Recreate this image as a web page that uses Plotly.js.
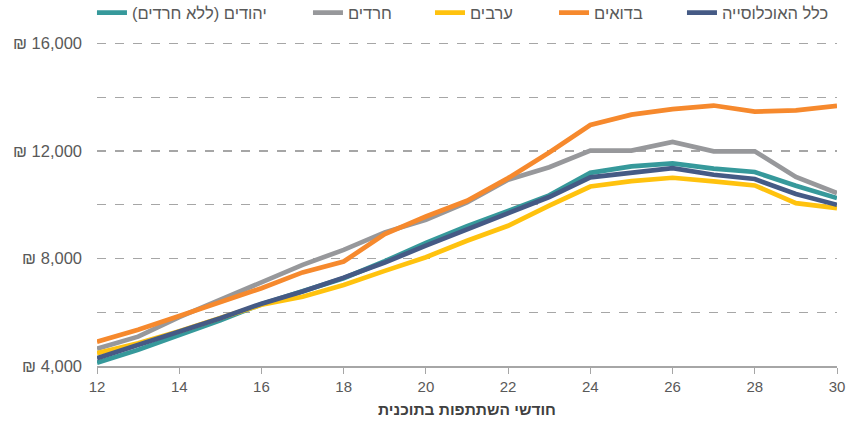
<!DOCTYPE html>
<html>
<head>
<meta charset="utf-8">
<script src="https://cdn.plot.ly/plotly-3.0.1.min.js"></script>
<style>
html,body{margin:0;padding:0;background:#fff;}
#chart{width:851px;height:426px;}
</style>
</head>
<body>
<div id="chart"></div>
<script>
var months = [12,13,14,15,16,17,18,19,20,21,22,23,24,25,26,27,28,29,30];

var seriesNames = ['יהודים (ללא חרדים)', 'חרדים', 'ערבים', 'בדואים', 'כלל האוכלוסייה'];

var jewsNonHaredi = [4124,4600,5150,5700,6300,6770,7268,7900,8580,9200,9780,10350,11190,11430,11540,11350,11220,10710,10250];
var haredim      = [4640,5093,5820,6460,7082,7764,8323,8975,9442,10090,10932,11400,12020,12020,12340,11988,11994,11040,10435];
var arabs        = [4473,4846,5290,5778,6280,6580,7019,7540,8050,8660,9220,9970,10680,10880,11006,10870,10720,10063,9877];
var bedouins     = [4906,5350,5860,6397,6895,7485,7888,8910,9566,10150,10994,11950,12970,13355,13560,13695,13466,13515,13680];
var total        = [4290,4780,5300,5780,6320,6770,7290,7850,8480,9070,9700,10290,11020,11210,11367,11119,10960,10400,10000];

var yTickVals = [4000,6000,8000,10000,12000,14000,16000];
var yTickText = ['₪ 4,000','','₪ 8,000','','₪ 12,000','','₪ 16,000'];
var xTickVals = [12,14,16,18,20,22,24,26,28,30];

var colors = ['#36999B','#97989B','#FFC20E','#F6892D','#455A85'];
var values = [jewsNonHaredi, haredim, arabs, bedouins, total];
var legendIds = ['legend','legend2','legend3','legend4','legend5'];
var legendX = [-0.0068, 0.2851, 0.45, 0.6176, 0.7905];

var traces = values.map(function(v,i){
  return {
    x: months, y: v, type: 'scatter', mode: 'lines',
    name: seriesNames[i],
    legend: legendIds[i],
    line: {color: colors[i], width: 4.7},
    hoverinfo: 'x+y'
  };
});

var layout = {
  width: 851, height: 426,
  margin: {l: 97, r: 14, t: 42.4, b: 60, autoexpand: false},
  paper_bgcolor: '#fff', plot_bgcolor: '#fff',
  font: {family: 'Liberation Sans, Arial, sans-serif', color: '#595959', size: 15},
  showlegend: true,
  xaxis: {
    range: [12, 30], tickvals: xTickVals, ticks: 'outside', ticklen: 6,
    tickcolor: '#A6A6A6', showline: true, linecolor: '#A6A6A6', linewidth: 1.5,
    showgrid: false, zeroline: false,
    tickfont: {size: 15, color: '#595959'},
    title: {text: '<b>חודשי השתתפות בתוכנית</b>', font: {size: 15.5, color: '#404040'}, standoff: 10}
  },
  yaxis: {
    range: [4000, 16060], tickvals: yTickVals, ticktext: yTickText,
    showgrid: true, gridcolor: '#A6A6A6', griddash: 'dash', gridwidth: 1.3,
    zeroline: false, showline: false, ticks: '', ticklabelstandoff: 14,
    tickfont: {size: 16.5, color: '#595959'}
  }
};

legendIds.forEach(function(id, i){
  layout[id] = {
    orientation: 'h', x: legendX[i], xanchor: 'left', y: 1.09, yanchor: 'middle',
    font: {size: 16.5, color: '#595959'}, bgcolor: 'rgba(0,0,0,0)'
  };
});

Plotly.newPlot('chart', traces, layout, {displayModeBar: false, staticPlot: true});
</script>
</body>
</html>
